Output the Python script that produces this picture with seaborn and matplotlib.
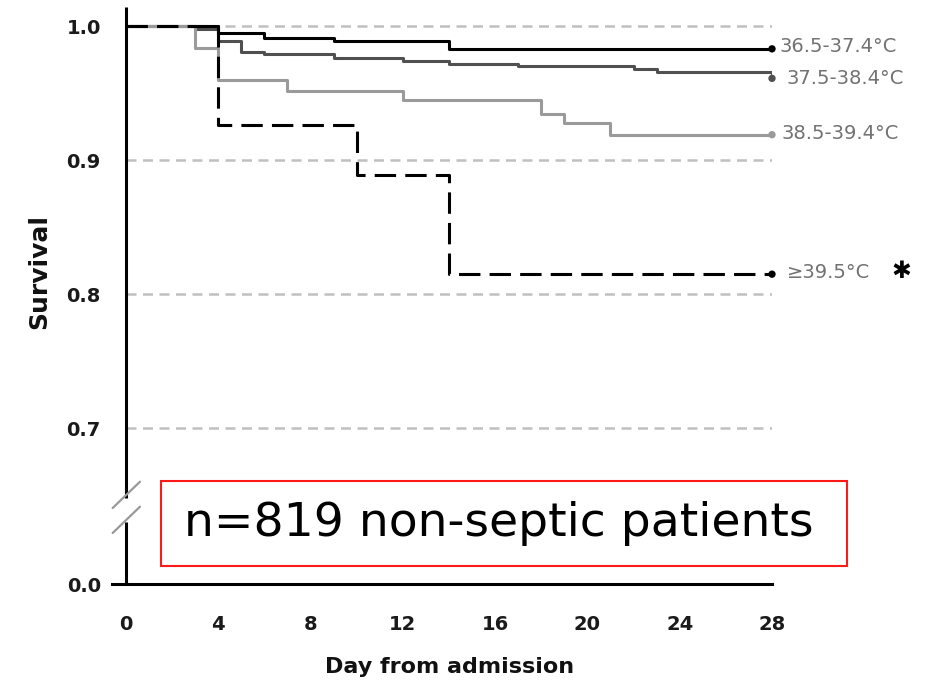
import numpy as np
import pandas as pd
import matplotlib
matplotlib.use("Agg")
import matplotlib.pyplot as plt
import seaborn as sns
from matplotlib.patches import Rectangle

# ---------------- data ----------------
groups = ["36.5-37.4°C", "37.5-38.4°C", "38.5-39.4°C", "≥39.5°C"]

days_g1 = [0, 4, 6, 9, 14, 28]
surv_g1 = [1.0, 0.995, 0.991, 0.9885, 0.983, 0.983]

days_g2 = [0, 3, 4, 5, 6, 9, 12, 14, 17, 22, 23, 28]
surv_g2 = [1.0, 0.9975, 0.9885, 0.981, 0.979, 0.9765, 0.974, 0.972, 0.970, 0.9678, 0.9655, 0.961]

days_g3 = [0, 3, 4, 7, 12, 18, 19, 21, 28]
surv_g3 = [1.0, 0.9833, 0.960, 0.9515, 0.9445, 0.9345, 0.928, 0.919, 0.919]

days_g4 = [0, 4, 10, 14, 28]
surv_g4 = [1.0, 0.926, 0.889, 0.815, 0.815]

x_ticks = [0, 4, 8, 12, 16, 20, 24, 28]
y_ticks = [0.0, 0.7, 0.8, 0.9, 1.0]
y_ticklabels = ["0.0", "0.7", "0.8", "0.9", "1.0"]
grid_levels = [0.7, 0.8, 0.9, 1.0]
x_label = "Day from admission"
y_label = "Survival"
note_text = "n=819 non-septic patients"
star_text = "✱"

# ---------------- build frame ----------------
frames = []
for g, d, s in zip(groups, [days_g1, days_g2, days_g3, days_g4],
                   [surv_g1, surv_g2, surv_g3, surv_g4]):
    frames.append(pd.DataFrame({"day": d, "survival": s, "group": g}))
df = pd.concat(frames, ignore_index=True)

ends = df.groupby("group", sort=False).tail(1)

# ---------------- broken y scale ----------------
BREAK = 0.7
LOW_SPAN = 0.116


def fwd(v):
    v = np.asarray(v, dtype=float)
    return np.where(v >= BREAK, v, BREAK - LOW_SPAN + v * LOW_SPAN / BREAK)


def inv(t):
    t = np.asarray(t, dtype=float)
    return np.where(t >= BREAK, t, (t - (BREAK - LOW_SPAN)) * BREAK / LOW_SPAN)


sns.set_theme(style="white")
plt.rcParams["font.family"] = ["DejaVu Sans"]
plt.rcParams["font.weight"] = "bold"

W, H = 930, 683
fig = plt.figure(figsize=(W / 100, H / 100), dpi=100)
ax = fig.add_axes([112 / W, 99 / H, 660 / W, 577 / H])
ax.set_yscale("function", functions=(fwd, inv))

# grid lines
ax.hlines(grid_levels, 0, 28.15, colors="#c0c0c0", linewidth=1.8,
          linestyles=(0, (4, 2.6)), zorder=1)

palette = {groups[0]: "#000000", groups[1]: "#505050",
           groups[2]: "#9a9a9a", groups[3]: "#000000"}
dashes = {groups[0]: "", groups[1]: "", groups[2]: "", groups[3]: (7, 3)}
order = [groups[1], groups[0], groups[2], groups[3]]

sns.lineplot(data=df, x="day", y="survival", hue="group", style="group",
             hue_order=order, style_order=order, palette=palette,
             dashes=dashes, estimator=None, sort=False,
             drawstyle="steps-post", linewidth=2.2, legend=False, ax=ax,
             zorder=3)

sns.scatterplot(data=ends, x="day", y="survival", hue="group",
                palette=palette, s=28, linewidth=0, legend=False, ax=ax,
                clip_on=False, zorder=5)

# end labels
label_offsets = {groups[0]: (7, -3), groups[1]: (14, -6),
                 groups[2]: (9, -4), groups[3]: (15, -4)}
for _, row in ends.iterrows():
    dx, dy = label_offsets[row["group"]]
    ax.annotate(row["group"], xy=(row["day"], row["survival"]),
                xytext=(dx, dy), textcoords="offset pixels",
                ha="left", va="baseline", fontsize=14, color="#727272",
                fontweight="normal", annotation_clip=False)
ax.annotate(star_text, xy=(days_g4[-1], surv_g4[-1]), xytext=(129, 3),
            textcoords="offset pixels", ha="center", va="center",
            fontsize=17, color="black", fontweight="bold",
            annotation_clip=False)

# axes limits / ticks
ax.set_xlim(-0.6, 28)
ax.set_ylim(0.0, 1.0142)
ax.set_xticks(x_ticks)
ax.set_xticklabels([str(t) for t in x_ticks], fontweight="bold")
ax.set_yticks(y_ticks)
ax.set_yticklabels(y_ticklabels, fontweight="bold")
ax.tick_params(axis="both", direction="out", width=2.2, color="black",
               labelsize=14, labelcolor="#1a1a1a")
ax.tick_params(axis="x", length=9.5, pad=12.5)
ax.tick_params(axis="y", length=10, pad=8)

for side in ["top", "right"]:
    ax.spines[side].set_visible(False)
ax.spines["left"].set_position(("data", 0))
ax.spines["left"].set_visible(False)
ax.spines["bottom"].set_linewidth(2.2)
ax.spines["bottom"].set_color("black")

# broken left axis line
tr = ax.get_xaxis_transform()
ax.plot([0, 0], [0.149, 1.0], transform=tr, color="black", lw=2.2,
        clip_on=False, zorder=4, solid_capstyle="butt")
ax.plot([0, 0], [0.0, 0.108], transform=tr, color="black", lw=2.2,
        clip_on=False, zorder=4, solid_capstyle="butt")
ax.plot([0.001, 0.0424], [0.1317, 0.1773], transform=ax.transAxes,
        color="#999999", lw=1.6, clip_on=False, zorder=4)
ax.plot([0.001, 0.0424], [0.0884, 0.134], transform=ax.transAxes,
        color="#999999", lw=1.6, clip_on=False, zorder=4)

ax.set_xlabel(x_label, fontsize=16, fontweight="bold", color="#111111")
ax.xaxis.set_label_coords(0.511, -0.1265)
ax.set_ylabel(y_label, fontsize=18, fontweight="bold", color="#111111")
ax.yaxis.set_label_coords(-0.092, 0.541)

# annotation box
fig.add_artist(Rectangle((161 / W, (H - 566) / H), (847 - 161) / W, 85 / H,
                         transform=fig.transFigure, facecolor="white",
                         edgecolor="#ff1a1a", linewidth=1.5, zorder=10))
fig.text(499 / W, (H - 524) / H, note_text, ha="center", va="center",
         fontsize=34, color="black", fontweight="normal", zorder=11)

fig.savefig("out.png", dpi=100)
